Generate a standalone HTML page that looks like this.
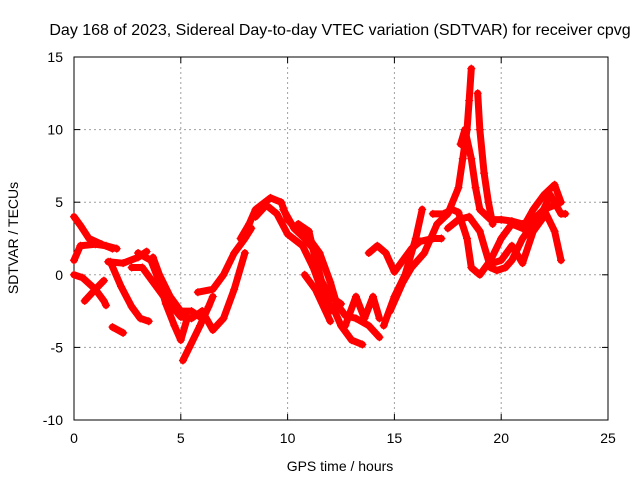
<!DOCTYPE html>
<html><head><meta charset="utf-8"><style>
body{margin:0;background:#fff;}
svg text{font-family:"Liberation Sans",sans-serif;font-size:14px;fill:#000;}
</style></head><body>
<svg id="chart" width="640" height="480" xmlns="http://www.w3.org/2000/svg">
<rect width="640" height="480" fill="#fff"/>
<text x="340" y="35" text-anchor="middle" style="font-size:16px">Day 168 of 2023, Sidereal Day-to-day VTEC variation (SDTVAR) for receiver cpvg</text>
<g id="grid"></g>
<g id="axes"></g>
<g id="series"></g>
<text x="340" y="471" text-anchor="middle">GPS time / hours</text>
<text x="0" y="0" text-anchor="middle" transform="translate(18,238) rotate(-90)">SDTVAR / TECUs</text>
</svg>
<script>
const xTicks=[0,5,10,15,20,25];
const yTicks=[-10,-5,0,5,10,15];
const tracks=[
[[0,4],[0.3,3.4],[0.7,2.5],[1.3,2.1],[1.8,1.8]],
[[0,1],[0.3,2],[1,2.1],[1.5,2],[2,1.8]],
[[0,0],[0.4,-0.2],[1,-1],[1.4,-1.8],[1.5,-2.1]],
[[0.5,-1.8],[1,-1],[1.4,-0.4]],
[[1.6,0.9],[2.3,0.8],[3,1.2],[3.4,1.6]],
[[1.7,0.9],[2.2,-0.8],[2.7,-2.2],[3.1,-3],[3.5,-3.2]],
[[1.8,-3.6],[2.3,-4]],
[[2.7,0.5],[3.2,0.5],[3.7,-0.5],[4.2,-1.5],[4.6,-2.2],[5,-2.9],[5.5,-3],[6,-2.5]],
[[3,1.5],[3.6,1],[4,-0.5],[4.3,-2],[4.7,-3.5],[5,-4.5],[5.3,-3]],
[[3.7,1.2],[4,0],[4.5,-1.5],[5,-2.5],[5.5,-2.5],[6,-3]],
[[5.1,-5.9],[5.4,-5],[5.9,-3.5],[6.3,-2.2],[6.5,-1.5]],
[[5.8,-1.2],[6.5,-1],[7,0],[7.5,1.5],[8,2.5],[8.3,3.2]],
[[6,-2.5],[6.5,-3.8],[7,-3],[7.5,-1],[8,1.5]],
[[7.8,2.5],[8.2,3.5],[8.5,4.5],[9.2,5.3],[9.7,5],[10,3.8],[10.5,3],[11,2.5],[11.5,1.5],[12,-0.5],[12.3,-2],[12.7,-2.8],[13.2,-3],[13.8,-3.5],[14.3,-4.3]],
[[8.5,4],[9,4.8],[9.5,4.2],[10,2.8],[10.7,2],[11.2,0.5],[11.7,-1.5],[12.2,-2.5],[12.5,-3.5],[13,-4.5],[13.5,-4.8]],
[[10.5,3.5],[11,3],[11.5,-0.2],[12,-1.5],[12.5,-2]],
[[10.8,0],[11.3,-1],[12,-3.2]],
[[9.8,4.5],[10.3,3.2],[10.8,2.5],[11.2,1.8],[11.6,-0.5],[12,-2.5]],
[[12.7,-3.5],[13.2,-1.5],[13.6,-3],[14,-1.5],[14.3,-3]],
[[13.8,1.5],[14.2,2],[14.6,1.5],[15,0.2],[15.4,1],[15.8,1.8],[16.2,2.3],[16.8,2.5],[17.2,2.5]],
[[14.5,-3.5],[15,-1.5],[15.5,0],[16,2.5],[16.3,4.5]],
[[14.8,-2.5],[15.4,-0.5],[15.8,0.5],[16.4,1.5],[17,3.5],[17.5,4.2],[18,6],[18.2,8],[18.4,10],[18.5,12],[18.6,14.2]],
[[18.1,9],[18.3,10],[18.6,8],[18.8,6],[19,4.5],[19.5,3.8],[20,3.8],[20.5,3.7],[21,3.5],[21.5,3.8],[22,4.5],[22.5,4.8]],
[[18.9,12.5],[19,10],[19.2,7],[19.4,5],[19.6,3.5]],
[[16.8,4.2],[17.3,4.2],[17.7,4.5],[18,4.3],[18.4,2.5],[18.6,0.5],[19,0],[19.5,1],[20,2.5],[20.5,3.5],[21,3.2],[21.5,4.5],[22,5.5],[22.5,6.2],[22.8,5]],
[[17.5,3.2],[18,3.8],[18.5,4],[19,3],[19.5,0.5],[19.8,0.3],[20.2,0.5],[20.5,1],[21,2.5],[21.5,3.5],[22,4.5],[22.5,3],[22.8,1]],
[[19.6,0.8],[20,1],[20.5,2],[21,0.8],[21.5,3],[22,4]],
[[21.7,3.6],[22.3,5.5],[22.8,4.2],[23,4.2]]
];
const L=74,R=608,T=57,B=420,X0=0,X1=25,Y0=-10,Y1=15;
function sx(h){return L+(h-X0)/(X1-X0)*(R-L);}
function sy(v){return B-(v-Y0)/(Y1-Y0)*(B-T);}
const NS="http://www.w3.org/2000/svg";
function mk(tag,attrs,parent){const e=document.createElementNS(NS,tag);for(const k in attrs)e.setAttribute(k,attrs[k]);parent.appendChild(e);return e;}
const grid=document.getElementById('grid'),axes=document.getElementById('axes'),series=document.getElementById('series');
xTicks.forEach(t=>{
 const x=sx(t);
 if(t>X0&&t<X1){const g=mk('line',{x1:x,x2:x,y1:T,y2:B,stroke:'#a0a0a0','stroke-dasharray':'2,3'},grid);
 
 }
 mk('line',{x1:x,x2:x,y1:B,y2:B-6,stroke:'#000'},axes);
 mk('line',{x1:x,x2:x,y1:T,y2:T+6,stroke:'#000'},axes);
 const tx=mk('text',{x:x,y:B+23,'text-anchor':'middle'},axes);tx.textContent=t;
 
 
});
yTicks.forEach(t=>{
 const y=sy(t);
 if(t>Y0&&t<Y1){const g=mk('line',{x1:L,x2:R,y1:y,y2:y,stroke:'#a0a0a0','stroke-dasharray':'2,3'},grid);
 
 }
 mk('line',{x1:L,x2:L+6,y1:y,y2:y,stroke:'#000'},axes);
 mk('line',{x1:R,x2:R-6,y1:y,y2:y,stroke:'#000'},axes);
 const tx=mk('text',{x:L-11,y:y+5,'text-anchor':'end'},axes);tx.textContent=t;
 
 
});
const fr=mk('rect',{x:L,y:T,width:R-L,height:B-T,fill:'none',stroke:'#000'},axes);


tracks.forEach((tr,i)=>{
 const pts=tr.map(p=>sx(p[0])+','+sy(p[1])).join(' ');
 const pl=mk('polyline',{points:pts,fill:'none',stroke:'#ff0000','stroke-width':7,'stroke-linejoin':'round','stroke-linecap':'round'},series);
 
 
 tr.forEach(p=>{
  const x=sx(p[0]),y=sy(p[1]);
  const m=mk('path',{d:`M${x-4},${y}H${x+4}M${x},${y-4}V${y+4}`,stroke:'#ff0000','stroke-width':1.2},series);
  
  
 });
});
</script>
</body></html>
